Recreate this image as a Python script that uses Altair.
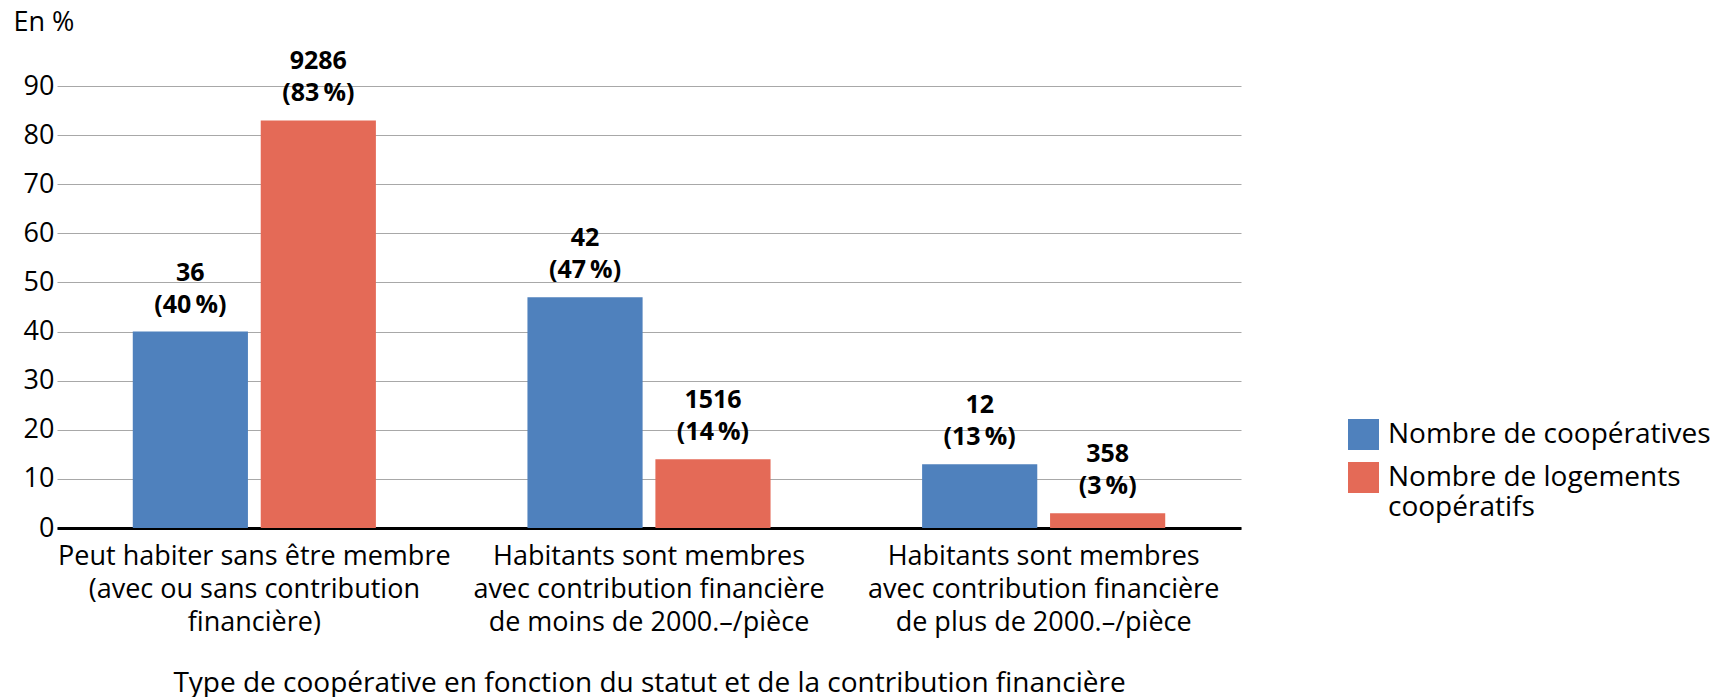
import altair as alt
import pandas as pd

categories = [
    "Peut habiter sans être membre\n(avec ou sans contribution\nfinancière)",
    "Habitants sont membres\navec contribution financière\nde moins de 2000.–/pièce",
    "Habitants sont membres\navec contribution financière\nde plus de 2000.–/pièce",
]
series = ["Nombre de coopératives", "Nombre de logements\ncoopératifs"]
pct_coop = [40, 47, 13]
count_coop = [36, 42, 12]
pct_log = [83, 14, 3]
count_log = [9286, 1516, 358]

rows = []
for i, c in enumerate(categories):
    rows.append({"cat": c, "serie": series[0], "pct": pct_coop[i], "n": count_coop[i]})
    rows.append({"cat": c, "serie": series[1], "pct": pct_log[i], "n": count_log[i]})
df = pd.DataFrame(rows)
df["label"] = df["n"].astype(str) + "\n(" + df["pct"].astype(str) + "\u2009%)"

FONT = "Open Sans"
FS = 27
BLUE = "#4f81bd"
RED = "#e46a57"

x = alt.X("cat:N", sort=categories, title="Type de coopérative en fonction du statut et de la contribution financière",
          scale=alt.Scale(paddingInner=0.384, paddingOuter=0.192),
          axis=alt.Axis(labelAngle=0, labelExpr="split(datum.label, '\\n')", labelFontSize=FS,
                        labelLineHeight=33, labelPadding=15, labelLimit=600, ticks=False, domainColor="black",
                        domainWidth=3, titleFontSize=28, titleFontWeight="normal", titlePadding=34,
                        labelColor="black", titleColor="black", labelFont=FONT, titleFont=FONT))
xo = alt.XOffset("serie:N", sort=series, scale=alt.Scale(paddingInner=0.1, paddingOuter=0))
y = alt.Y("pct:Q", scale=alt.Scale(domain=[0, 90]),
          axis=alt.Axis(values=list(range(0, 100, 10)), title="En %", titleAngle=0, titleX=-44, titleY=-64,
                        titleAlign="left", titleBaseline="middle", titleFontSize=FS, titleFontWeight="normal",
                        labelFontSize=FS, labelPadding=3, ticks=False, domain=False, gridColor="#a8a8a8",
                        gridWidth=1, labelColor="black", titleColor="black", labelFont=FONT, titleFont=FONT))

bars = alt.Chart(df).mark_bar().encode(
    x=x, xOffset=xo, y=y,
    color=alt.Color("serie:N", sort=series, scale=alt.Scale(domain=series, range=[BLUE, RED]),
                    legend=alt.Legend(title=None, orient="none", legendX=1291, legendY=333,
                                      symbolType="square", symbolSize=961, symbolStrokeWidth=0,
                                      labelFontSize=28, labelFont=FONT, labelColor="black",
                                      labelExpr="split(datum.label, '\\n')", labelLimit=400,
                                      labelOffset=9, rowPadding=12, labelBaseline="middle")),
)
text = alt.Chart(df).mark_text(fontSize=25, fontWeight="bold", font=FONT, baseline="bottom",
                               lineBreak="\n", lineHeight=32, dy=-46, color="black").encode(
    x=alt.X("cat:N", sort=categories), xOffset=xo, y="pct:Q", text="label:N")

chart = (bars + text).properties(width=1184, height=442,
                                 padding={"left": 5, "top": 0, "right": 5, "bottom": 0}).configure_view(stroke=None)
chart.save("out.html", embed_options={"renderer": "svg", "actions": False})
